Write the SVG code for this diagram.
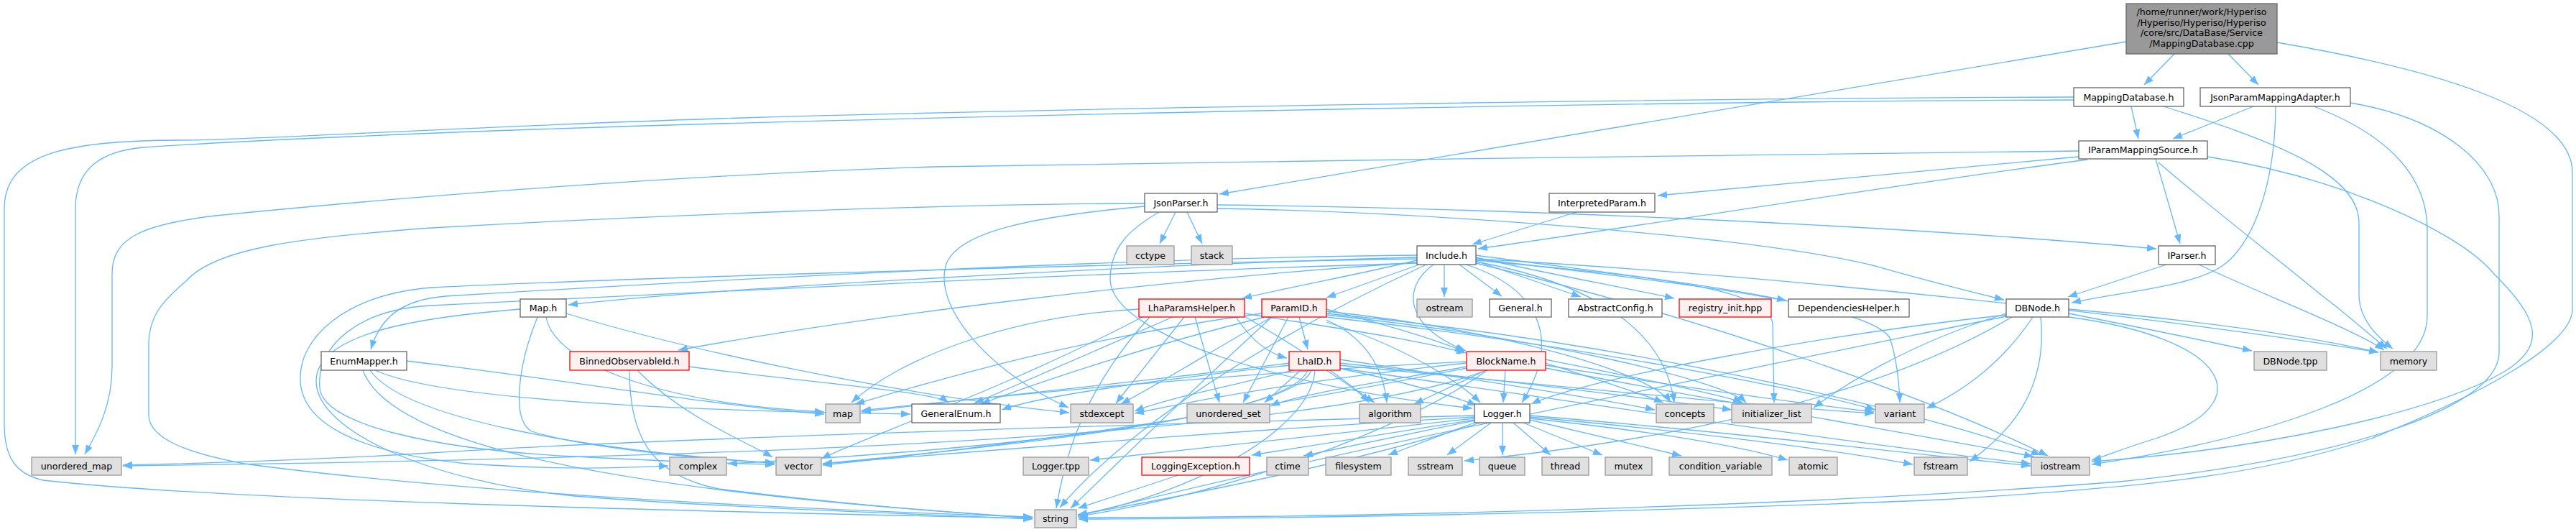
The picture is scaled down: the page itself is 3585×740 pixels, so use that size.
<svg xmlns="http://www.w3.org/2000/svg" width="3585" height="740" viewBox="0 0 3585 740">
<style>
.n rect{fill:#fff;stroke:#666;stroke-width:1.3}
.x rect{fill:#e0e0e0;stroke:#999;stroke-width:1.3}
.r rect{fill:#fff0f0;stroke:#f00;stroke-width:1.3}
.root rect{fill:#999;stroke:#666;stroke-width:1.3}
text{font-family:"DejaVu Sans","Liberation Sans",sans-serif;font-size:12.6px;fill:#000;text-anchor:middle}
#edges path{fill:none;stroke:#63b8ff;stroke-width:1.3;marker-end:url(#ah)}
</style>
<defs>
<marker id="ah" viewBox="0 0 10 10" refX="10" refY="5" markerWidth="13" markerHeight="13" markerUnits="userSpaceOnUse" orient="auto">
<path d="M0,1.2 L10,5 L0,8.8 z" fill="#63b8ff"/>
</marker>
</defs>
<rect width="3585" height="740" fill="#fff"/>
<g id="edges">
<path d="M3026,75 L2984,118"/>
<path d="M3101,75 L3143,118"/>
<path d="M2959,58 L1697,270"/>
<path d="M3169,59 C3380,95 3580,150 3580,240 L3580,430 C3580,480 3450,550 3300,610 C3150,660 3000,677 2700,695 C2300,712 1800,722 1501,722"/>
<path d="M2966,148 L2976,193"/>
<path d="M2886,135 C2300,137 1500,150 1000,165 C600,178 350,195 250,195 C90,195 6,215 6,290 L6,590 C6,640 25,660 60,668 C300,695 900,710 1437,721"/>
<path d="M2886,139 C2300,141 1500,158 1000,172 C600,183 300,198 200,205 C140,210 105,235 105,290 L105,632"/>
<path d="M3011,148 C3160,195 3283,240 3283,310 L3283,410 C3283,445 3310,470 3330,485"/>
<path d="M3136,148 L3024,193"/>
<path d="M3167,148 C3166,270 3130,345 3091,371 C3050,398 2960,405 2883,421"/>
<path d="M3220,148 C3330,190 3378,250 3378,320 L3378,440 C3378,540 3150,610 2911,646"/>
<path d="M3271,143 C3400,165 3478,230 3478,300 L3478,490 C3478,570 3250,640 2950,670 C2500,705 1900,720 1501,720"/>
<path d="M2893,218 L2307,272"/>
<path d="M2905,222 C2600,262 2300,312 2057,346"/>
<path d="M3000,221 L3034,339"/>
<path d="M3004,226 C3090,300 3170,360 3230,410 C3270,440 3300,468 3322,485"/>
<path d="M2893,210 C2400,214 1800,225 1300,232 C900,245 500,280 300,300 C200,312 156,330 156,380 L156,510 C156,570 130,610 118,632"/>
<path d="M3072,218 C3250,245 3420,320 3470,380 C3530,440 3550,480 3480,520 C3380,575 3150,625 2911,642"/>
<path d="M1636,295 L1614,339"/>
<path d="M1652,295 L1673,339"/>
<path d="M1694,285 C2050,289 2600,310 3001,346"/>
<path d="M1694,290 C2000,295 2450,330 2610,370 C2680,390 2740,405 2789,417"/>
<path d="M1593,283 C1300,284 900,300 600,317 C420,330 300,345 260,390 C225,420 207,440 207,480 L207,577 C207,610 260,630 340,645 C600,680 1000,705 1437,719"/>
<path d="M1593,287 C1450,300 1330,320 1316,370 C1300,430 1380,520 1487,567"/>
<path d="M1613,295 C1570,320 1545,345 1545,390 C1550,470 1800,540 2049,568"/>
<path d="M3015,368 L2878,413"/>
<path d="M3060,368 C3150,410 3280,460 3318,487"/>
<path d="M2194,295 L2049,340"/>
<path d="M2010,368 L2010,413"/>
<path d="M2031,368 L2090,412"/>
<path d="M2054,363 L2200,413"/>
<path d="M2054,358 C2150,380 2250,398 2330,415"/>
<path d="M2054,355 C2200,375 2380,395 2486,418"/>
<path d="M1975,368 L1846,414"/>
<path d="M1972,362 C1900,380 1800,398 1729,415"/>
<path d="M1995,368 C1950,400 1955,455 2040,488"/>
<path d="M1972,358 C1600,368 1000,400 791,424"/>
<path d="M1972,355 C1500,360 900,395 620,412 C560,417 530,440 516,486"/>
<path d="M1972,365 C1600,390 1200,440 944,487"/>
<path d="M2054,360 C2500,385 3000,440 3310,490"/>
<path d="M1972,360 C1400,370 800,390 600,400 C480,410 415,470 418,530 C421,590 500,630 650,645 C800,655 880,650 930,648"/>
<path d="M1972,366 C1500,380 900,410 600,425 C500,430 440,480 445,540 C450,590 600,625 800,635 C950,643 1030,645 1078,646"/>
<path d="M1985,368 C1850,430 1600,560 1475,706"/>
<path d="M2054,366 C2400,450 2700,560 2850,634"/>
<path d="M2040,368 C2140,400 2175,470 2118,560"/>
<path d="M2054,360 C2300,390 2600,420 2630,470 C2640,500 2643,530 2644,560"/>
<path d="M2054,362 C2300,385 2460,400 2467,450 L2469,560"/>
<path d="M2054,364 C2250,400 2320,480 2330,560"/>
<path d="M1808,441 L1820,486"/>
<path d="M1846,430 C1900,445 1980,465 2038,489"/>
<path d="M1846,445 C1900,470 1925,510 1930,560"/>
<path d="M1793,441 L1730,560"/>
<path d="M1770,441 C1700,480 1620,530 1560,562"/>
<path d="M1760,441 C1600,480 1450,530 1365,562"/>
<path d="M1756,436 C1500,470 1300,530 1190,562"/>
<path d="M1846,448 C1950,480 2030,530 2060,560"/>
<path d="M1846,433 C2100,460 2300,520 2325,560"/>
<path d="M1846,438 C2150,470 2400,530 2430,560"/>
<path d="M1846,441 C2200,480 2500,540 2610,570"/>
<path d="M1846,436 C2300,480 2700,580 2840,633"/>
<path d="M1770,441 C1650,550 1550,650 1490,707"/>
<path d="M1720,441 C1740,470 1760,490 1791,498"/>
<path d="M1846,515 L1913,560"/>
<path d="M1862,512 C1950,530 2020,550 2055,564"/>
<path d="M1795,505 C1600,530 1300,560 1199,573"/>
<path d="M1795,508 C1600,530 1450,550 1394,570"/>
<path d="M1800,515 C1700,540 1620,555 1579,572"/>
<path d="M1810,515 L1760,560"/>
<path d="M1864,500 C2000,520 2200,550 2303,570"/>
<path d="M1864,505 C2100,530 2300,555 2410,570"/>
<path d="M1864,508 C2200,540 2450,565 2608,575"/>
<path d="M1864,512 C2200,560 2600,620 2826,645"/>
<path d="M1825,515 C1800,580 1400,620 1145,645"/>
<path d="M1820,515 C1790,590 1300,630 1013,645"/>
<path d="M1830,515 C1825,600 1650,690 1500,716"/>
<path d="M2068,515 L1968,562"/>
<path d="M2095,515 L2092,560"/>
<path d="M2041,505 C1800,530 1650,560 1579,575"/>
<path d="M2041,510 C1900,535 1800,550 1768,565"/>
<path d="M2151,505 C2230,530 2290,550 2315,560"/>
<path d="M2151,500 C2300,530 2400,550 2425,560"/>
<path d="M2151,508 C2350,540 2500,560 2608,573"/>
<path d="M2151,512 C2400,560 2700,610 2830,635"/>
<path d="M2070,515 C1950,600 1700,690 1500,718"/>
<path d="M2041,512 C1700,580 1400,620 1145,647"/>
<path d="M2041,503 C1700,520 1400,550 1199,571"/>
<path d="M2068,515 C1800,620 800,640 171,648"/>
<path d="M2052,588 L1932,633"/>
<path d="M2075,588 L2014,633"/>
<path d="M2091,588 L2091,633"/>
<path d="M2106,588 L2158,633"/>
<path d="M2120,588 L2230,633"/>
<path d="M2129,584 L2340,634"/>
<path d="M2129,582 C2300,600 2420,620 2488,640"/>
<path d="M2129,580 C2350,600 2550,625 2662,646"/>
<path d="M2129,578 C2400,600 2650,630 2826,648"/>
<path d="M2052,585 L1814,634"/>
<path d="M2052,582 C1900,600 1700,620 1517,640"/>
<path d="M2052,584 C1950,600 1850,615 1742,633"/>
<path d="M2052,580 C1700,600 1400,625 1145,645"/>
<path d="M2060,588 C1900,640 1650,690 1500,716"/>
<path d="M2052,578 C1600,590 900,610 600,630 C400,642 250,645 171,647"/>
<path d="M1640,661 L1500,707"/>
<path d="M2879,436 C2950,450 3050,470 3134,488"/>
<path d="M2879,430 C3050,445 3200,465 3310,490"/>
<path d="M2829,441 C2790,500 2740,540 2681,568"/>
<path d="M2840,441 C2850,540 2800,600 2741,642"/>
<path d="M2792,436 C2650,480 2560,540 2524,567"/>
<path d="M2879,441 C3100,470 3150,560 3000,610 C2950,625 2930,635 2911,640"/>
<path d="M2792,438 C2500,470 2200,530 2131,562"/>
<path d="M2792,440 C2400,520 1800,640 1500,718"/>
<path d="M2800,441 C2600,560 2300,615 2038,641"/>
<path d="M1632,441 L1356,561"/>
<path d="M1648,441 L1553,561"/>
<path d="M1663,441 L1697,560"/>
<path d="M1585,430 C1400,440 1250,500 1185,560"/>
<path d="M1732,436 C1850,455 1960,470 2040,491"/>
<path d="M1732,440 C1800,480 1880,530 1905,560"/>
<path d="M1600,441 C1500,550 1480,650 1470,707"/>
<path d="M1590,441 C1400,540 1200,610 1143,638"/>
<path d="M760,441 C770,500 900,560 1147,573"/>
<path d="M748,441 C720,510 712,585 740,600 C820,625 1000,640 1078,644"/>
<path d="M788,436 C1000,500 1300,555 1488,574"/>
<path d="M724,430 C600,440 440,460 440,530 C440,600 600,670 800,690 C1000,706 1300,716 1437,722"/>
<path d="M566,502 C800,530 1000,565 1147,576"/>
<path d="M515,515 C560,580 800,625 1078,644"/>
<path d="M522,515 C620,560 1000,572 1267,576"/>
<path d="M505,515 C540,610 800,680 1437,720"/>
<path d="M887,515 C950,580 1040,615 1075,636"/>
<path d="M876,515 C876,600 900,660 1000,680 C1200,705 1350,714 1437,721"/>
<path d="M959,510 C1150,535 1300,545 1320,560"/>
</g>
<g id="n_root" class="root"><rect x="2959" y="5" width="210" height="70"/><text x="3064" y="21">/home/runner/work/Hyperiso</text><text x="3064" y="35.7">/Hyperiso/Hyperiso/Hyperiso</text><text x="3064" y="50.4">/core/src/DataBase/Service</text><text x="3064" y="65">/MappingDatabase.cpp</text></g>
<g id="n_MappingDatabase" class="n"><rect x="2886" y="122" width="153" height="26"/><text x="2962.5" y="139.5">MappingDatabase.h</text></g>
<g id="n_JsonParamMappingAdapter" class="n"><rect x="3062" y="122" width="209" height="26"/><text x="3166.5" y="139.5">JsonParamMappingAdapter.h</text></g>
<g id="n_IParamMappingSource" class="n"><rect x="2893" y="196" width="179" height="25"/><text x="2982.5" y="213">IParamMappingSource.h</text></g>
<g id="n_JsonParser" class="n"><rect x="1593" y="269" width="101" height="26"/><text x="1643.5" y="286.5">JsonParser.h</text></g>
<g id="n_InterpretedParam" class="n"><rect x="2156" y="269" width="147" height="26"/><text x="2229.5" y="286.5">InterpretedParam.h</text></g>
<g id="n_cctype" class="x"><rect x="1568" y="342" width="66" height="26"/><text x="1601" y="359.5">cctype</text></g>
<g id="n_stack" class="x"><rect x="1658" y="342" width="57" height="26"/><text x="1686.5" y="359.5">stack</text></g>
<g id="n_Include" class="n"><rect x="1972" y="342" width="82" height="26"/><text x="2013" y="359.5">Include.h</text></g>
<g id="n_IParser" class="n"><rect x="3004" y="342" width="79" height="26"/><text x="3043.5" y="359.5">IParser.h</text></g>
<g id="n_Map" class="n"><rect x="724" y="416" width="64" height="25"/><text x="756" y="433">Map.h</text></g>
<g id="n_LhaParamsHelper" class="r"><rect x="1585" y="416" width="147" height="25"/><text x="1658.5" y="433">LhaParamsHelper.h</text></g>
<g id="n_ParamID" class="r"><rect x="1756" y="416" width="90" height="25"/><text x="1801" y="433">ParamID.h</text></g>
<g id="n_ostream" class="x"><rect x="1972" y="416" width="77" height="25"/><text x="2010.5" y="433">ostream</text></g>
<g id="n_General" class="n"><rect x="2073" y="416" width="86" height="25"/><text x="2116" y="433">General.h</text></g>
<g id="n_AbstractConfig" class="n"><rect x="2183" y="416" width="130" height="25"/><text x="2248" y="433">AbstractConfig.h</text></g>
<g id="n_registry_init" class="r"><rect x="2337" y="416" width="128" height="25"/><text x="2401" y="433">registry_init.hpp</text></g>
<g id="n_DependenciesHelper" class="n"><rect x="2489" y="416" width="168" height="25"/><text x="2573" y="433">DependenciesHelper.h</text></g>
<g id="n_DBNode" class="n"><rect x="2792" y="416" width="87" height="25"/><text x="2835.5" y="433">DBNode.h</text></g>
<g id="n_EnumMapper" class="n"><rect x="447" y="489" width="119" height="26"/><text x="506.5" y="506.5">EnumMapper.h</text></g>
<g id="n_BinnedObservableId" class="r"><rect x="793" y="489" width="166" height="26"/><text x="876" y="506.5">BinnedObservableId.h</text></g>
<g id="n_LhaID" class="r"><rect x="1794" y="489" width="71" height="26"/><text x="1829.5" y="506.5">LhaID.h</text></g>
<g id="n_BlockName" class="r"><rect x="2041" y="489" width="110" height="26"/><text x="2096" y="506.5">BlockName.h</text></g>
<g id="n_DBNode_tpp" class="x"><rect x="3137" y="489" width="101" height="26"/><text x="3187.5" y="506.5">DBNode.tpp</text></g>
<g id="n_memory" class="x"><rect x="3313" y="489" width="78" height="26"/><text x="3352" y="506.5">memory</text></g>
<g id="n_map" class="x"><rect x="1149" y="562" width="48" height="26"/><text x="1173" y="579.5">map</text></g>
<g id="n_GeneralEnum" class="n"><rect x="1269" y="562" width="123" height="26"/><text x="1330.5" y="579.5">GeneralEnum.h</text></g>
<g id="n_stdexcept" class="x"><rect x="1490" y="562" width="87" height="26"/><text x="1533.5" y="579.5">stdexcept</text></g>
<g id="n_unordered_set" class="x"><rect x="1652" y="562" width="115" height="26"/><text x="1709.5" y="579.5">unordered_set</text></g>
<g id="n_algorithm" class="x"><rect x="1892" y="562" width="85" height="26"/><text x="1934.5" y="579.5">algorithm</text></g>
<g id="n_Logger" class="n"><rect x="2052" y="562" width="77" height="26"/><text x="2090.5" y="579.5">Logger.h</text></g>
<g id="n_concepts" class="x"><rect x="2305" y="562" width="80" height="26"/><text x="2345" y="579.5">concepts</text></g>
<g id="n_initializer_list" class="x"><rect x="2410" y="562" width="111" height="26"/><text x="2465.5" y="579.5">initializer_list</text></g>
<g id="n_variant" class="x"><rect x="2610" y="562" width="68" height="26"/><text x="2644" y="579.5">variant</text></g>
<g id="n_unordered_map" class="x"><rect x="44" y="636" width="125" height="25"/><text x="106.5" y="653">unordered_map</text></g>
<g id="n_complex" class="x"><rect x="932" y="636" width="79" height="25"/><text x="971.5" y="653">complex</text></g>
<g id="n_vector" class="x"><rect x="1080" y="636" width="63" height="25"/><text x="1111.5" y="653">vector</text></g>
<g id="n_Logger_tpp" class="x"><rect x="1424" y="636" width="91" height="25"/><text x="1469.5" y="653">Logger.tpp</text></g>
<g id="n_LoggingException" class="r"><rect x="1589" y="636" width="150" height="25"/><text x="1664" y="653">LoggingException.h</text></g>
<g id="n_ctime" class="x"><rect x="1763" y="636" width="58" height="25"/><text x="1792" y="653">ctime</text></g>
<g id="n_filesystem" class="x"><rect x="1845" y="636" width="91" height="25"/><text x="1890.5" y="653">filesystem</text></g>
<g id="n_sstream" class="x"><rect x="1960" y="636" width="75" height="25"/><text x="1997.5" y="653">sstream</text></g>
<g id="n_queue" class="x"><rect x="2059" y="636" width="63" height="25"/><text x="2090.5" y="653">queue</text></g>
<g id="n_thread" class="x"><rect x="2146" y="636" width="65" height="25"/><text x="2178.5" y="653">thread</text></g>
<g id="n_mutex" class="x"><rect x="2234" y="636" width="65" height="25"/><text x="2266.5" y="653">mutex</text></g>
<g id="n_condition_variable" class="x"><rect x="2323" y="636" width="143" height="25"/><text x="2394.5" y="653">condition_variable</text></g>
<g id="n_atomic" class="x"><rect x="2490" y="636" width="67" height="25"/><text x="2523.5" y="653">atomic</text></g>
<g id="n_fstream" class="x"><rect x="2664" y="636" width="74" height="25"/><text x="2701" y="653">fstream</text></g>
<g id="n_iostream" class="x"><rect x="2827" y="636" width="81" height="25"/><text x="2867.5" y="653">iostream</text></g>
<g id="n_string" class="x"><rect x="1440" y="709" width="58" height="25"/><text x="1469" y="726">string</text></g>
</svg>
